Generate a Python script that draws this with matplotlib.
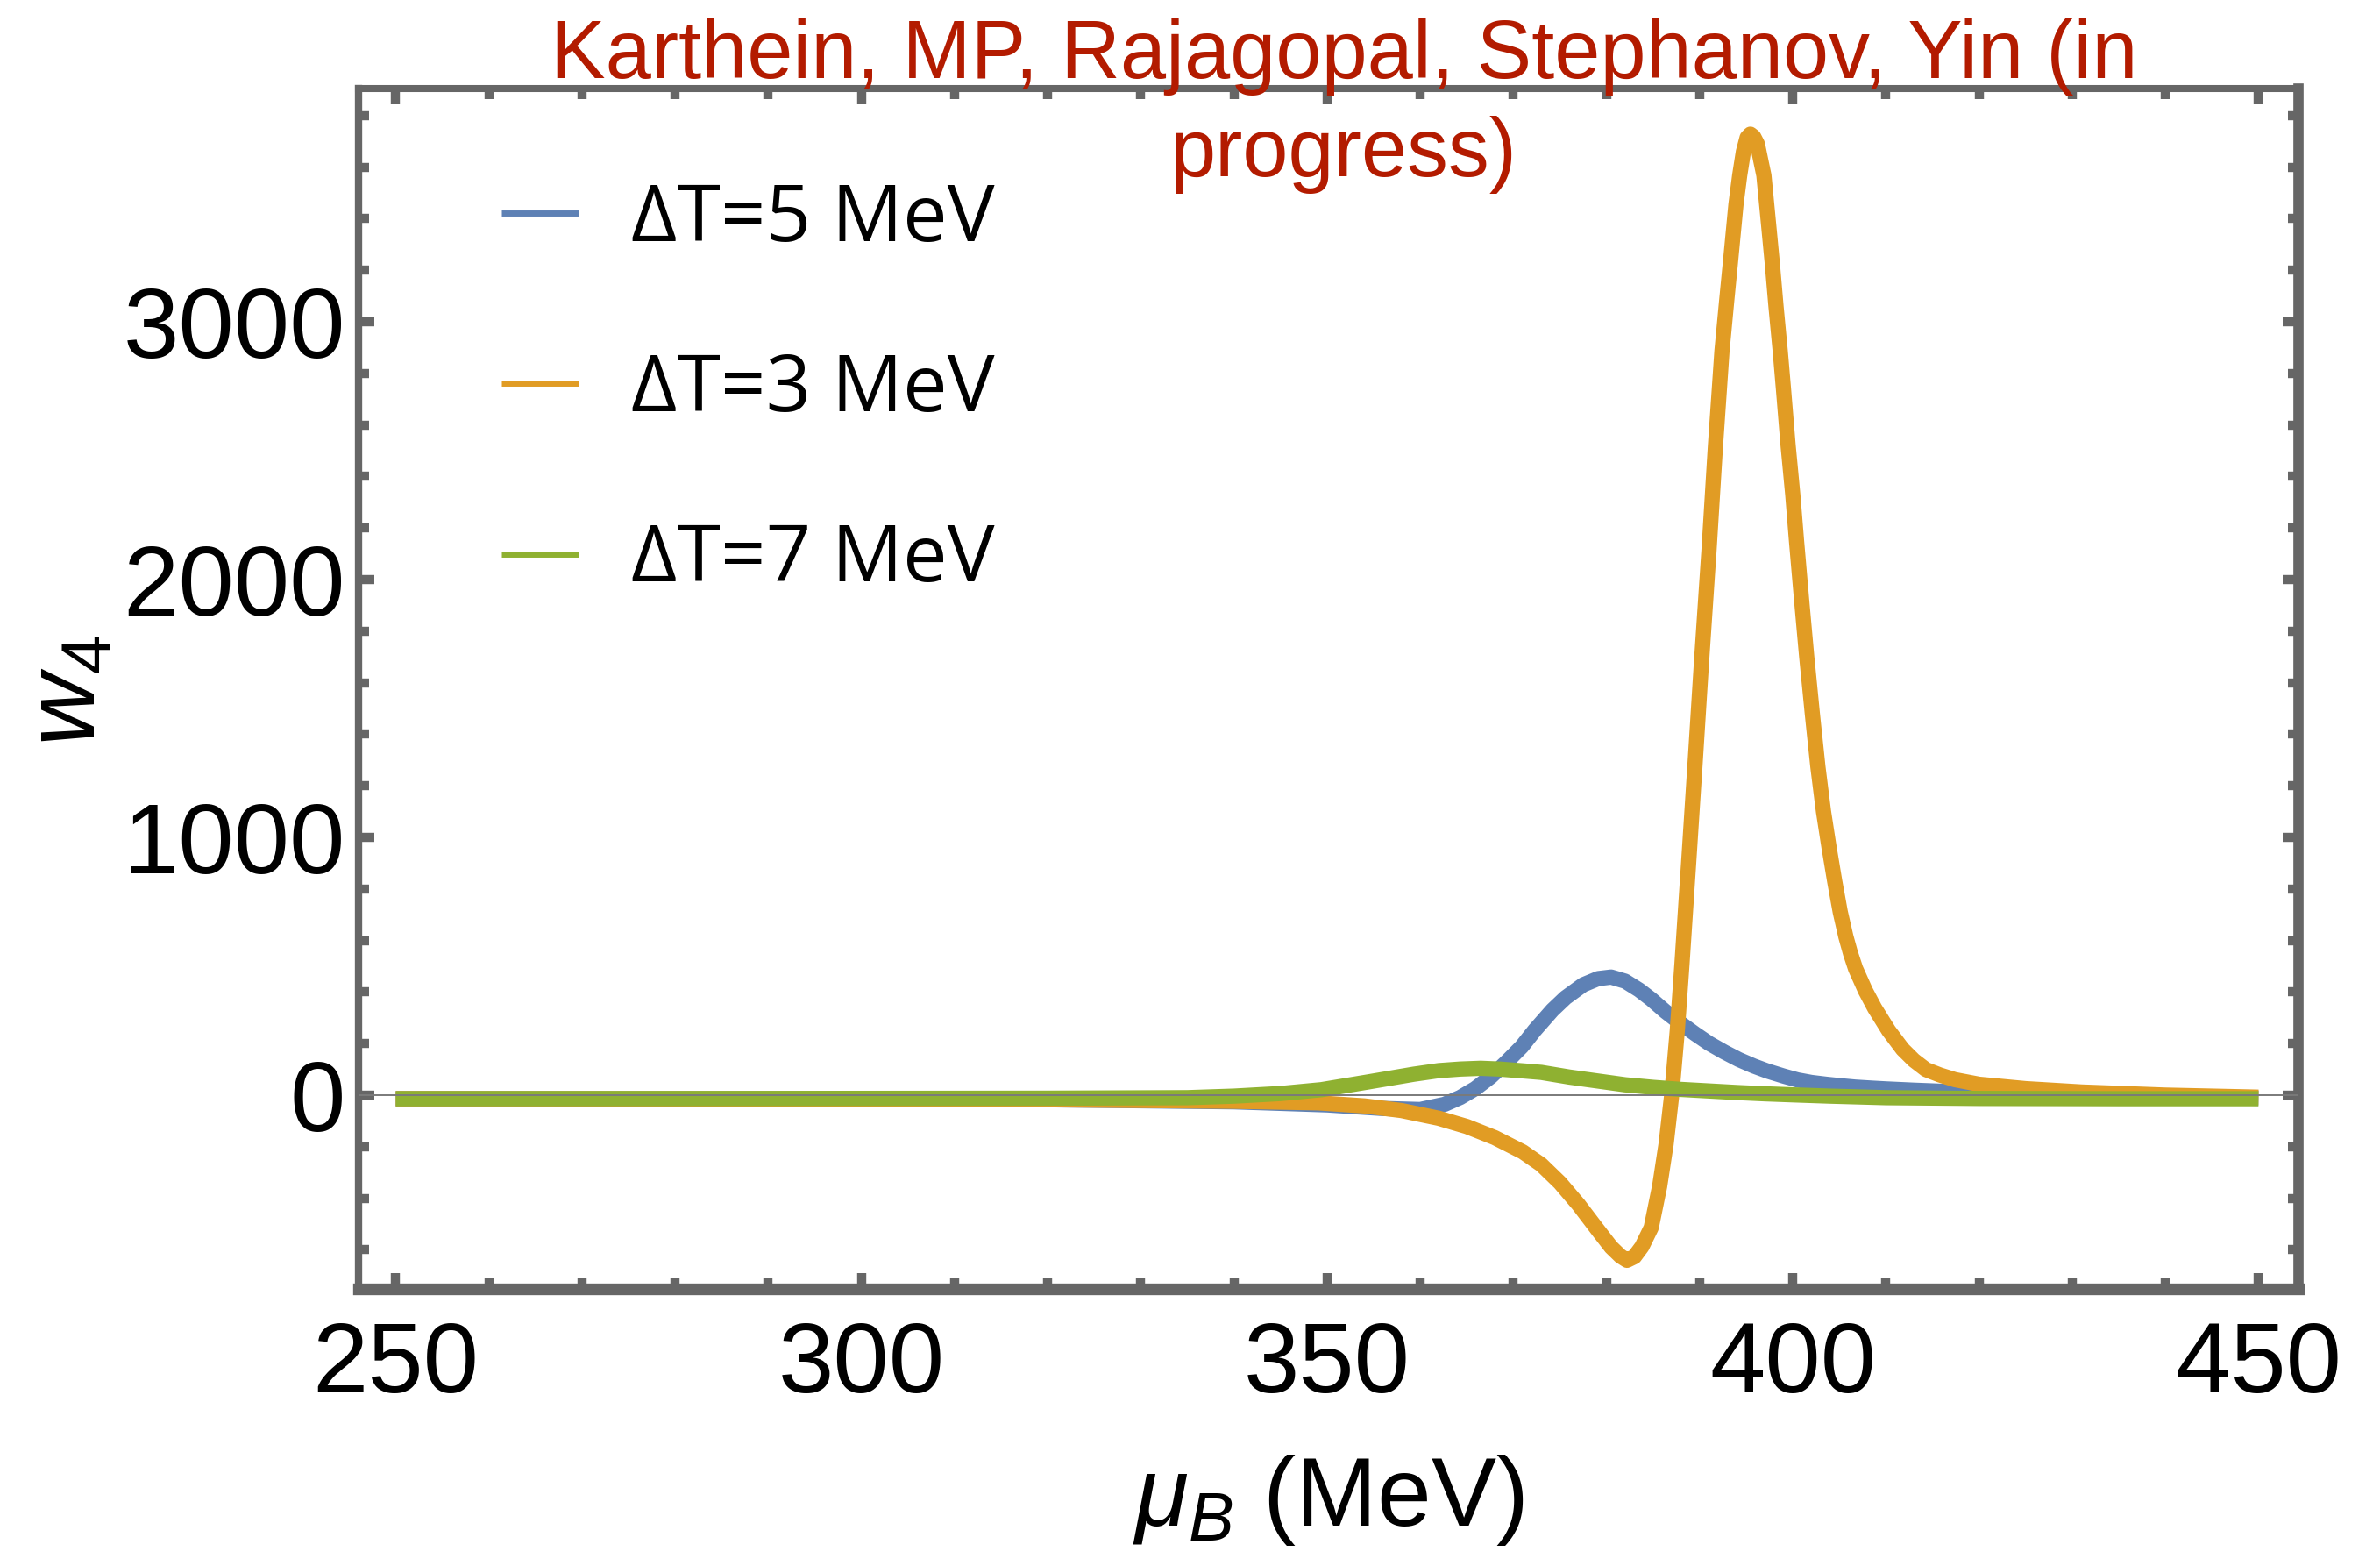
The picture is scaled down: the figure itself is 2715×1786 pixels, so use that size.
import numpy as np
import matplotlib
matplotlib.use("Agg")
import matplotlib.pyplot as plt
from matplotlib.ticker import MultipleLocator

# ------------------------------------------------------------
#   w4 vs mu_B for three values of Delta T
# ------------------------------------------------------------

labels = ["ΔT=5 MeV", "ΔT=3 MeV", "ΔT=7 MeV"]
colors = ["#5e81b5", "#e19c24", "#8fb131"]

# Delta T = 5 MeV
mu_dT5 = [250, 290, 320, 340, 350, 356, 360, 362.6, 364.3, 365.9, 367.6, 369.2,
          370.9, 372.3, 374.2, 375.6, 377.5, 379.1, 380.5, 382.0, 383.5, 384.8,
          386.3, 387.9, 389.5, 391.0, 392.6, 394.2, 395.8, 397.3, 399.0, 400.5,
          402.0, 403.6, 405.2, 406.7, 408.5, 410, 413, 418, 425, 435, 450]
w4_dT5 = [-14, -15, -18, -26, -38, -52, -56, -36, -9, 25, 72, 126,
          188, 252, 330, 378, 428, 452, 458, 442, 408, 372,
          325, 280, 238, 201, 168, 138, 113, 93, 74, 59,
          49, 42, 36, 31, 27, 24, 19, 12, 5, -3, -12]

# Delta T = 3 MeV
mu_dT3 = [250, 290, 320, 340, 349, 354, 358, 362, 365, 368, 371, 373, 375, 377,
          379, 380.5, 381.5, 382.2, 383.0, 383.8, 384.8, 385.7, 386.4, 387.0,
          387.6, 388.1, 388.8, 389.5, 390.2, 391.0, 391.7, 392.4, 392.9, 393.3,
          393.9, 394.3, 394.7, 395.1, 395.45, 395.8, 396.2, 396.6, 396.9, 397.2,
          397.8, 398.2, 398.65, 399.0, 399.5, 400.0, 400.4, 401.0, 401.5, 402.1,
          402.7, 403.3, 403.9, 404.5, 405.1, 405.7, 406.2, 406.75, 407.8, 408.8,
          410.3, 411.8, 413.0, 414.3, 415.8, 417.4, 420, 425, 431, 440, 450]
w4_dT3 = [-14, -15, -18, -24, -30, -42, -60, -90, -122, -165, -220, -270, -340,
          -425, -520, -590, -625, -641, -627, -588, -514, -355, -190, 0,
          250, 507, 890, 1280, 1680, 2110, 2520, 2888, 3080, 3228,
          3455, 3568, 3660, 3715, 3728, 3718, 3690, 3620, 3568, 3455,
          3228, 3060, 2888, 2740, 2520, 2330, 2151, 1900, 1700, 1480,
          1273, 1100, 960, 830, 710, 615, 550, 490, 405, 337,
          250, 178, 135, 99, 78, 60, 42, 25, 12, 0, -8]

# Delta T = 7 MeV
mu_dT7 = [250, 290, 320, 335, 340, 345, 349.4, 354.4, 359.3, 362, 364.3, 366.5,
          368.5, 371, 373, 376, 379, 382, 385, 388, 391, 394, 397, 400, 404,
          410, 420, 435, 450]
w4_dT7 = [-14, -13, -12, -10, -4, 6, 21, 51, 81, 95, 101, 104,
          101, 94, 88, 70, 55, 40, 30, 22, 16, 10, 5, 1, -4,
          -10, -13, -14, -14]

curves = [(mu_dT5, w4_dT5), (mu_dT3, w4_dT3), (mu_dT7, w4_dT7)]

title_lines = ["Karthein, MP, Rajagopal, Stephanov, Yin (in", "progress)"]
x_ticks = [250, 300, 350, 400, 450]
y_ticks = [0, 1000, 2000, 3000]

frame_gray = "#666666"

plt.rcParams["font.family"] = ["Liberation Sans", "DejaVu Sans"]
plt.rcParams["mathtext.fontset"] = "custom"
plt.rcParams["mathtext.rm"] = "Liberation Sans"
plt.rcParams["mathtext.it"] = "Liberation Sans:italic"

W, H = 2715, 1786
fig = plt.figure(figsize=(W / 100, H / 100), dpi=100)
ax = fig.add_axes([409 / W, 1 - 1470 / H, (2622 - 409) / W, (1470 - 101) / H])

for (mu, w4), lab, col in zip(curves, labels, colors):
    ax.plot(mu, w4, color=col, lw=12.5, label=lab,
            solid_capstyle="butt", solid_joinstyle="round")

ax.axhline(0, color="#7a7a7a", lw=1.4, zorder=5)

ax.set_xlim(246, 454.3)
ax.set_ylim(-752, 3905)
ax.set_xticks(x_ticks)
ax.set_yticks(y_ticks)
ax.xaxis.set_minor_locator(MultipleLocator(10))
ax.yaxis.set_minor_locator(MultipleLocator(200))

ax.tick_params(which="both", direction="in", top=True, right=True,
               color=frame_gray, width=7.5)
ax.tick_params(which="major", length=13)
ax.tick_params(which="minor", length=8.5)
ax.tick_params(axis="x", labelsize=82, pad=26)
ax.tick_params(axis="y", labelsize=82, pad=11)

for side, lw in [("left", 6.0), ("right", 8.4), ("top", 5.8), ("bottom", 9.6)]:
    ax.spines[side].set_color(frame_gray)
    ax.spines[side].set_linewidth(lw)

ax.set_xlabel(r"$\mu_B$ (MeV)", fontsize=80)
ax.xaxis.label.set_va("center")
ax.xaxis.set_label_coords(0.5, -(1711 - 1470) / (1470 - 101))
ax.set_ylabel(r"$w_4$", fontsize=82)
ax.yaxis.label.set_va("center")
ax.yaxis.set_label_coords((80 - 409) / (2622 - 409), 0.498)

leg = ax.legend(loc="upper left", bbox_to_anchor=(572 / W, 1 - 206 / H),
                bbox_transform=fig.transFigure, frameon=False,
                prop={"family": "Open Sans", "size": 65},
                borderpad=0, borderaxespad=0, handlelength=0.98,
                handletextpad=0.66, labelspacing=1.15)
for hl in leg.get_lines():
    hl.set_linewidth(5)

# two-line red caption above the frame
for txt, yb in zip(title_lines, [89, 201]):
    fig.text(1533 / W, 1 - yb / H, txt, ha="center", va="baseline",
             fontsize=67.5, color="#b31b00")

fig.savefig("out.png", dpi=100)
